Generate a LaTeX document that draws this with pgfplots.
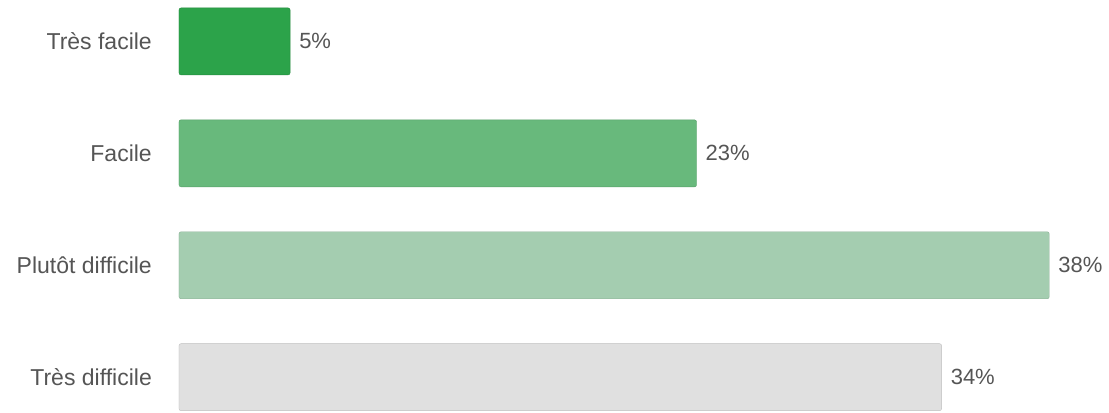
\documentclass[border=0pt]{standalone}
\usepackage{pgfplots}
\pgfplotsset{compat=1.18}
\usepackage{fontspec}
\setmainfont{Liberation Sans}
\definecolor{c1}{RGB}{44,163,74}
\definecolor{c2}{RGB}{104,185,124}
\definecolor{c3}{RGB}{164,205,176}
\definecolor{c4}{RGB}{224,224,224}
\definecolor{txt}{RGB}{85,85,85}
\begin{document}
\begin{tikzpicture}
\path[use as bounding box] (-179bp,0) rectangle (930bp,413bp);
\begin{axis}[
  scale only axis,
  width=916bp, height=413bp,
  xbar, bar width=67bp, bar shift=0pt,
  xmin=0, xmax=40,
  ymin=-0.37, ymax=3.32, y dir=reverse,
  axis line style={draw=none},
  xtick=\empty,
  ytick={0,1,2,3},
  yticklabels={Très facile,Facile,Plutôt difficile,Très difficile},
  major tick length=0pt,
  yticklabel style={anchor=east, inner sep=0pt, xshift=-27bp, text=txt, font=\fontsize{23bp}{27bp}\selectfont},
  nodes near coords,
  point meta=explicit symbolic,
  every node near coord/.append style={anchor=west, inner sep=0pt, xshift=9bp, text=txt, font=\fontsize{22bp}{26bp}\selectfont},
  clip=false,
]
\addplot[fill=c1, draw=c1!85!black, rounded corners=2bp] coordinates {(4.85,0) [5\%]};
\addplot[fill=c2, draw=c2!85!black, rounded corners=2bp] coordinates {(22.6,1) [23\%]};
\addplot[fill=c3, draw=c3!85!black, rounded corners=2bp] coordinates {(38,2) [38\%]};
\addplot[fill=c4, draw=c4!85!black, rounded corners=2bp] coordinates {(33.3,3) [34\%]};
\end{axis}
\end{tikzpicture}
\end{document}
